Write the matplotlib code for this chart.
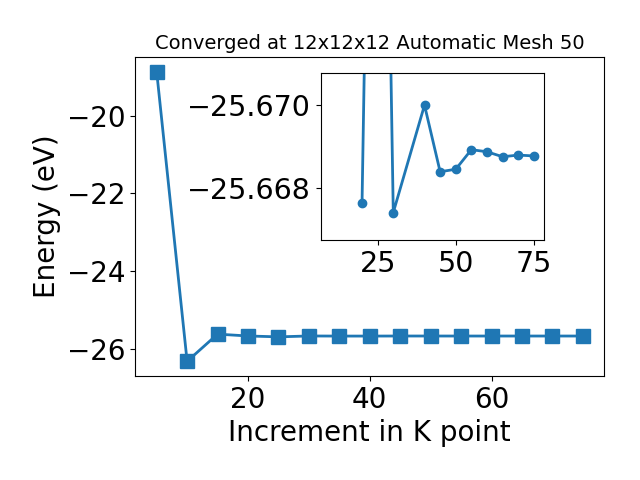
import matplotlib
matplotlib.use("Agg")
import matplotlib.pyplot as plt

kpoints = [5, 10, 15, 20, 25, 30, 35, 40, 45, 50, 55, 60, 65, 70, 75]
energy = [-18.87, -26.32, -25.62, -25.66764, -25.69, -25.66742, -25.670, -25.67000,
          -25.66840, -25.66846, -25.66893, -25.66888, -25.66876, -25.66880, -25.66878]
inset_k = [20, 25, 30, 40, 45, 50, 55, 60, 65, 70, 75]
inset_e = [-25.66764, -25.69, -25.66742, -25.67000, -25.66840, -25.66846,
           -25.66893, -25.66888, -25.66876, -25.66880, -25.66878]
title = "Converged at 12x12x12 Automatic Mesh 50"

fig = plt.figure(figsize=(6.4, 4.8), dpi=100)
ax = fig.add_subplot(111)
fig.subplots_adjust(left=0.2115, right=0.944, top=0.881, bottom=0.217)
ax.plot(kpoints, energy, marker='s', markersize=10, linewidth=2, color='#1f77b4')
ax.set_xlabel("Increment in K point", fontsize=20)
ax.set_ylabel("Energy (eV)", fontsize=20)
ax.set_title(title, fontsize=14)
ax.tick_params(labelsize=20)

ins = fig.add_axes([0.501, 0.5, 0.349, 0.3486])
ins.plot(inset_k, inset_e, marker='o', markersize=6, linewidth=2, color='#1f77b4')
ins.set_xlim(6.75, 78.25)
ins.set_ylim(-25.66676, -25.67078)
ins.set_yticks([-25.670, -25.668])
ins.tick_params(labelsize=20.5)

fig.savefig("out.png", dpi=100)
